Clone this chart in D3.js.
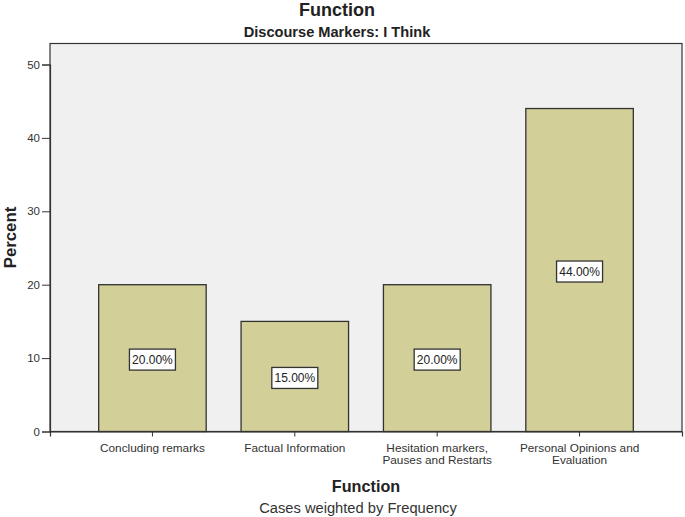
<!DOCTYPE html>
<html><head><meta charset="utf-8">
<script src="https://cdn.jsdelivr.net/npm/d3@7"></script>
<style>body{margin:0;background:#fff}svg{display:block}</style>
</head><body><svg id="c" width="685" height="517"></svg>
<script>
const categories = [["Concluding remarks"],["Factual Information"],["Hesitation markers,","Pauses and Restarts"],["Personal Opinions and","Evaluation"]];
const values = [20, 15, 20, 44];
const yTicks = [0,10,20,30,40,50];

const svg = d3.select("#c");
const L=50, R=682, T=43.5, B=431.5;
const sans = "Arial,'Liberation Sans',sans-serif";

const x = d3.scaleBand().domain(d3.range(values.length)).range([L,R]).paddingInner(0.245).paddingOuter(0.342);
const y = d3.scaleLinear().domain([0,50]).range([B, B-50*7.34]);

svg.append("rect").attr("x",L).attr("y",T).attr("width",R-L).attr("height",B-T)
  .attr("fill","#f0f0f0").attr("stroke","#333").attr("stroke-width",1.2);

svg.selectAll(".bar").data(values).join("rect")
  .attr("x",(d,i)=>x(i)).attr("y",d=>y(d)).attr("width",x.bandwidth()).attr("height",d=>B-y(d))
  .attr("fill","#d3cf98").attr("stroke","#333").attr("stroke-width",1.3);

const yAxis = svg.append("g").attr("transform",`translate(${L},0)`)
  .call(d3.axisLeft(y).tickValues(yTicks).tickSize(8).tickPadding(2).tickFormat(d3.format("d")));
yAxis.select(".domain").attr("stroke","#333").attr("stroke-width",1.2);
yAxis.selectAll("line").attr("stroke","#333");
yAxis.selectAll("text").attr("font-family",sans).attr("font-size",11.5).attr("fill","#333");

const xAxis = svg.append("g").attr("transform",`translate(0,${B})`)
  .call(d3.axisBottom(x).tickSize(5).tickFormat(""));
xAxis.select(".domain").attr("stroke","#333").attr("stroke-width",1.2);
xAxis.selectAll("line").attr("stroke","#333");
xAxis.selectAll(".tick").each(function(d){
  const g=d3.select(this);
  categories[d].forEach((s,k)=>g.append("text").attr("fill","#333").attr("font-family",sans).attr("font-size",11.8)
    .attr("text-anchor","middle").attr("x",0).attr("y",20+k*12.5).text(s));
});

const lab = svg.selectAll(".lab").data(values).join("g")
  .attr("transform",(d,i)=>`translate(${x(i)+x.bandwidth()/2},${y(d/2)+1.5})`);
lab.append("rect").attr("x",-23).attr("y",-10.5).attr("width",46).attr("height",21)
  .attr("fill","#fff").attr("stroke","#333").attr("stroke-width",1.3);
lab.append("text").attr("text-anchor","middle").attr("dy","0.36em").attr("font-family",sans).attr("font-size",12)
  .attr("fill","#222").text(d=>d3.format(".2f")(d)+"%");

svg.append("text").attr("x",337).attr("y",16).attr("text-anchor","middle").attr("font-family",sans)
  .attr("font-size",18).attr("font-weight","bold").attr("fill","#222").text("Function");
svg.append("text").attr("x",337).attr("y",37).attr("text-anchor","middle").attr("font-family",sans)
  .attr("font-size",14.6).attr("font-weight","bold").attr("fill","#222").text("Discourse Markers: I Think");
svg.append("text").attr("transform","translate(16,237.5) rotate(-90)").attr("text-anchor","middle").attr("font-family",sans)
  .attr("font-size",16.8).attr("font-weight","bold").attr("fill","#222").text("Percent");
svg.append("text").attr("x",366).attr("y",492).attr("text-anchor","middle").attr("font-family",sans)
  .attr("font-size",16.2).attr("font-weight","bold").attr("fill","#222").text("Function");
svg.append("text").attr("x",358).attr("y",512.5).attr("text-anchor","middle").attr("font-family",sans)
  .attr("font-size",14.7).attr("fill","#333").text("Cases weighted by Frequency");
</script></body></html>
